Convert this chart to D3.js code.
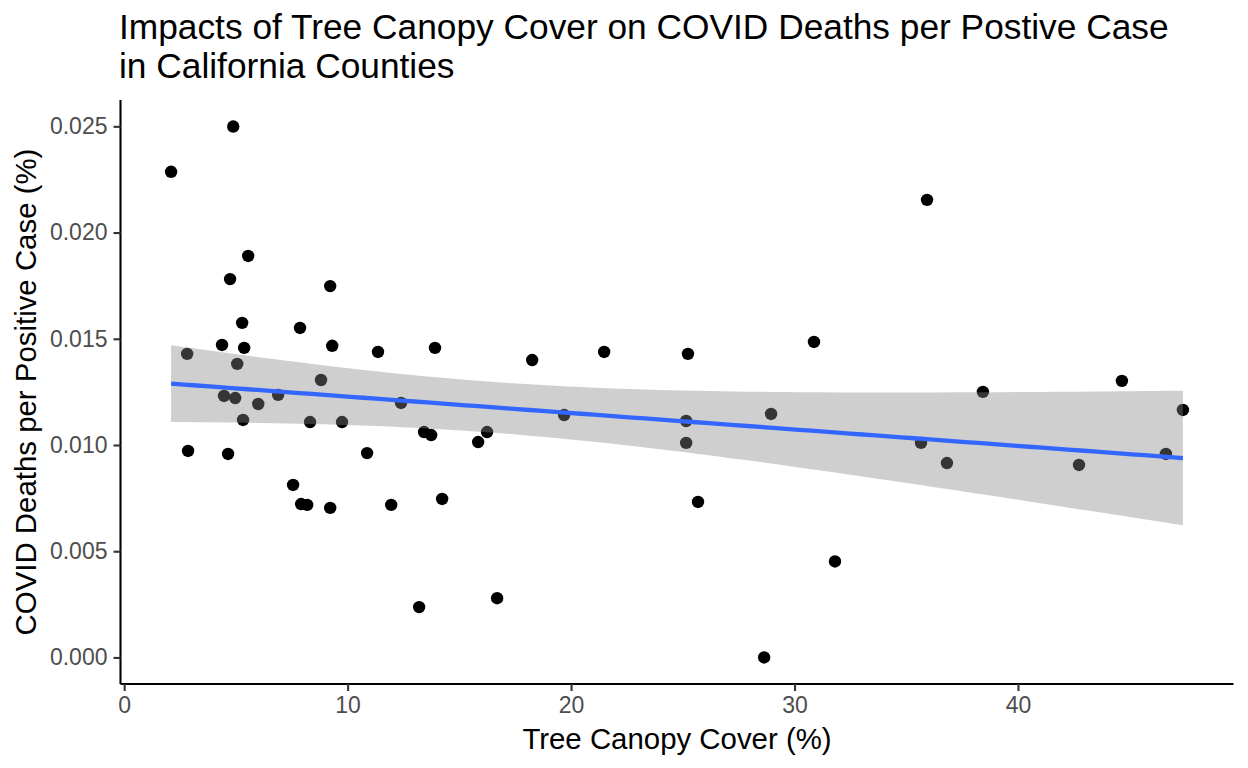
<!DOCTYPE html>
<html>
<head>
<meta charset="utf-8">
<script src="https://cdn.jsdelivr.net/npm/d3@7/dist/d3.min.js"></script>
<style>
  body { margin: 0; background: #fff; }
  svg text { font-family: "Liberation Sans", Arial, Helvetica, sans-serif; }
</style>
</head>
<body>
<div id="chart"></div>
<script>
// tree canopy cover (%) per county
const canopy = [
  2.10, 4.88, 35.93, 5.55, 4.74, 9.22, 5.28, 7.87, 4.38, 9.31,
  5.37, 2.82, 11.36, 13.91, 18.26, 21.48, 25.23, 30.87, 5.06, 8.81,
  38.43, 44.65, 4.47, 4.97, 6.89, 6.00, 12.39, 5.32, 8.32, 9.75,
  19.69, 25.15, 28.95, 47.38, 13.42, 13.74, 16.24, 15.84, 25.15, 35.66,
  2.86, 4.65, 10.87, 36.82, 42.73, 46.62, 7.56, 7.92, 8.19, 9.22,
  11.95, 14.23, 25.68, 31.81, 13.20, 16.69, 28.64
]
// covid deaths per positive case (%)
const deathRate = [
  0.02286, 0.02499, 0.02154, 0.01890, 0.01781, 0.01748, 0.01575, 0.01551, 0.01471, 0.01467,
  0.01457, 0.01429, 0.01438, 0.01457, 0.01400, 0.01438, 0.01429, 0.01485, 0.01382, 0.01306,
  0.01250, 0.01302, 0.01231, 0.01221, 0.01236, 0.01193, 0.01198, 0.01118, 0.01108, 0.01108,
  0.01141, 0.01113, 0.01146, 0.01165, 0.01061, 0.01047, 0.01061, 0.01014, 0.01010, 0.01010,
  0.00972, 0.00958, 0.00962, 0.00915, 0.00906, 0.00958, 0.00812, 0.00722, 0.00718, 0.00704,
  0.00718, 0.00746, 0.00732, 0.00452, 0.00237, 0.00279, 0.00000
]
const xTicks = [0, 10, 20, 30, 40]
const yTicks = [0, 0.005, 0.010, 0.015, 0.020, 0.025]

const titleLines = ['Impacts of Tree Canopy Cover on COVID Deaths per Postive Case', 'in California Counties']
const xLabel = 'Tree Canopy Cover (%)'
const yLabel = 'COVID Deaths per Positive Case (%)'

const width = 1248
const height = 768
const panel = { left: 120.5, right: 1233.5, top: 100, bottom: 684 }

const points = canopy.map((x, i) => ({ x, y: deathRate[i] }))

// ggplot style 5% expansion
const expand = ext => {
  const pad = (ext[1] - ext[0]) * 0.05
  return [ext[0] - pad, ext[1] + pad]
}

const x = d3.scaleLinear()
  .domain(expand(d3.extent(canopy)))
  .range([panel.left, panel.right])
const y = d3.scaleLinear()
  .domain(expand(d3.extent(deathRate)))
  .range([panel.bottom, panel.top])

// linear model with 95% confidence band (like geom_smooth(method = 'lm'))
const n = points.length
const xbar = d3.mean(canopy)
const ybar = d3.mean(deathRate)
const sxx = d3.sum(canopy, v => (v - xbar) ** 2)
const sxy = d3.sum(points, p => (p.x - xbar) * (p.y - ybar))
const slope = sxy / sxx
const intercept = ybar - slope * xbar
const sse = d3.sum(points, p => (p.y - (intercept + slope * p.x)) ** 2)
const sigma = Math.sqrt(sse / (n - 2))
const df = n - 2
const z = 1.959964
const tq = z + (z ** 3 + z) / (4 * df) + (5 * z ** 5 + 16 * z ** 3 + 3 * z) / (96 * df * df)

const [xmin, xmax] = d3.extent(canopy)
const fit = d3.range(80).map(i => {
  const xv = xmin + (xmax - xmin) * i / 79
  const yv = intercept + slope * xv
  const se = sigma * Math.sqrt(1 / n + (xv - xbar) ** 2 / sxx)
  return { x: xv, y: yv, lo: yv - tq * se, hi: yv + tq * se }
})

const svg = d3.select('#chart')
  .append('svg')
  .attr('width', width)
  .attr('height', height)
  .style('background-color', '#fff')

// points
svg.append('g')
  .selectAll('circle')
  .data(points)
  .join('circle')
  .attr('cx', d => x(d.x))
  .attr('cy', d => y(d.y))
  .attr('r', 6.2)
  .attr('fill', '#000')

// confidence ribbon
svg.append('path')
  .datum(fit)
  .attr('d', d3.area().x(d => x(d.x)).y0(d => y(d.lo)).y1(d => y(d.hi)))
  .attr('fill', '#868686')
  .attr('fill-opacity', 0.4)

// fitted line
svg.append('path')
  .datum(fit)
  .attr('d', d3.line().x(d => x(d.x)).y(d => y(d.y)))
  .attr('fill', 'none')
  .attr('stroke', '#3366FF')
  .attr('stroke-width', 4.3)

// axes
const xAxis = svg.append('g')
  .attr('transform', `translate(0, ${panel.bottom})`)
  .call(d3.axisBottom(x).tickValues(xTicks).tickSize(7).tickPadding(6).tickFormat(d3.format('d')))
const yAxis = svg.append('g')
  .attr('transform', `translate(${panel.left}, 0)`)
  .call(d3.axisLeft(y).tickValues(yTicks).tickSize(7).tickPadding(6).tickFormat(d3.format('.3f')))

;[xAxis, yAxis].forEach(g => {
  g.select('.domain').attr('stroke', '#000').attr('stroke-width', 2.1)
  g.selectAll('.tick line').attr('stroke', '#333333').attr('stroke-width', 2.1)
  g.selectAll('.tick text')
    .attr('fill', '#4D4D4D')
    .style('font-size', '23px')
})
xAxis.select('.domain').attr('d', `M${panel.left},0H${panel.right}`)
yAxis.select('.domain').attr('d', `M0,${panel.bottom}V${panel.top}`)

// axis titles
svg.append('text')
  .attr('x', (panel.left + panel.right) / 2)
  .attr('y', 748.5)
  .attr('text-anchor', 'middle')
  .style('font-size', '29.4px')
  .attr('fill', '#000')
  .text(xLabel)

svg.append('text')
  .attr('transform', `translate(36, ${(panel.top + panel.bottom) / 2}) rotate(-90)`)
  .attr('text-anchor', 'middle')
  .style('font-size', '29.4px')
  .attr('fill', '#000')
  .text(yLabel)

// title
svg.append('g')
  .selectAll('text')
  .data(titleLines)
  .join('text')
  .attr('x', 119)
  .attr('y', (d, i) => 39 + i * 38.5)
  .style('font-size', '35.3px')
  .attr('fill', '#000')
  .text(d => d)
</script>
</body>
</html>
